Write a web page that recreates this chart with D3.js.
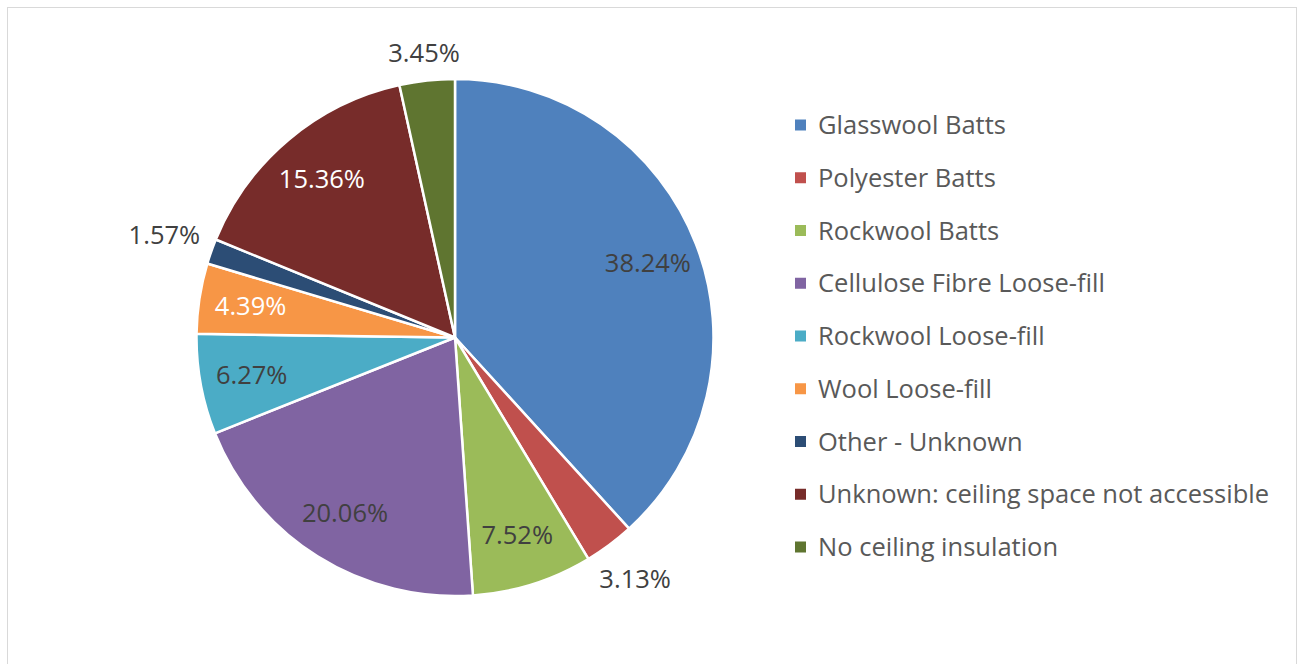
<!DOCTYPE html>
<html lang="en">
<head>
    <meta charset="UTF-8">
    <title>Ceiling insulation</title>
    <script src="https://cdn.jsdelivr.net/npm/d3@7"></script>
    <style>
        body { margin: 0; background: #fff; }
        text { font-family: "Open Sans", sans-serif; }
    </style>
</head>
<body>
    <svg width="1303" height="664" id="mainsvg" style="display: block;"></svg>
    <script>
        const categories = ["Glasswool Batts", "Polyester Batts", "Rockwool Batts", "Cellulose Fibre Loose-fill",
            "Rockwool Loose-fill", "Wool Loose-fill", "Other - Unknown",
            "Unknown: ceiling space not accessible", "No ceiling insulation"];
        const shares = [38.24, 3.13, 7.52, 20.06, 6.27, 4.39, 1.57, 15.36, 3.45];
        const colors = ["#4F81BD", "#C0504D", "#9BBB59", "#8064A2", "#4BACC6", "#F79646", "#2C4D75", "#772C2A", "#5F7530"];
        const whiteLabels = ["Wool Loose-fill", "Unknown: ceiling space not accessible"];
        const outsideLabels = ["Polyester Batts", "Other - Unknown", "No ceiling insulation"];

        const svg = d3.select("#mainsvg");
        const cx = 455, cy = 337.5, radius = 258.5;

        svg.append("rect")
            .attr("x", 7.5).attr("y", 7.5)
            .attr("width", 1289).attr("height", 680)
            .attr("fill", "#fff").attr("stroke", "#d9d9d9");

        const data = categories.map((c, i) => ({name: c, value: shares[i], color: colors[i]}));
        const pie = d3.pie().value(d => d.value).sort(null);
        const arc = d3.arc().innerRadius(0).outerRadius(radius);
        const arcs = pie(data);

        const g = svg.append("g").attr("transform", `translate(${cx},${cy})`);

        g.selectAll("path").data(arcs).join("path")
            .attr("d", arc)
            .attr("fill", d => d.data.color)
            .attr("stroke", "#fff")
            .attr("stroke-width", 2.5)
            .attr("stroke-linejoin", "round");

        const labels = g.selectAll("text.lbl").data(arcs).join("text")
            .attr("class", "lbl")
            .attr("text-anchor", "middle")
            .attr("dy", "0.36em")
            .attr("font-size", 25.5)
            .attr("fill", d => whiteLabels.includes(d.data.name) ? "#fff" : "#404040")
            .text(d => d.data.value.toFixed(2) + "%");

        labels.each(function(d) {
            const a = (d.startAngle + d.endAngle) / 2;
            const sx = Math.sin(a), sy = -Math.cos(a);
            let dist;
            if (outsideLabels.includes(d.data.name)) {
                const bb = this.getBBox();
                dist = radius + 12 + Math.abs(bb.width / 2 * sx) + Math.abs(12 * sy);
            } else {
                dist = radius * 0.8;
            }
            d3.select(this).attr("x", dist * sx).attr("y", dist * sy);
        });

        // legend
        const legend = svg.append("g").attr("transform", "translate(795,125)");
        const rowH = 52.75;
        const rows = legend.selectAll("g").data(data).join("g")
            .attr("transform", (d, i) => `translate(0,${i * rowH})`);
        rows.append("rect")
            .attr("x", 0).attr("y", -5.5)
            .attr("width", 11).attr("height", 11)
            .attr("fill", d => d.color);
        rows.append("text")
            .attr("x", 23)
            .attr("dy", "0.36em")
            .attr("font-size", 25.5)
            .attr("fill", "#595959")
            .text(d => d.name);
    </script>
</body>
</html>
